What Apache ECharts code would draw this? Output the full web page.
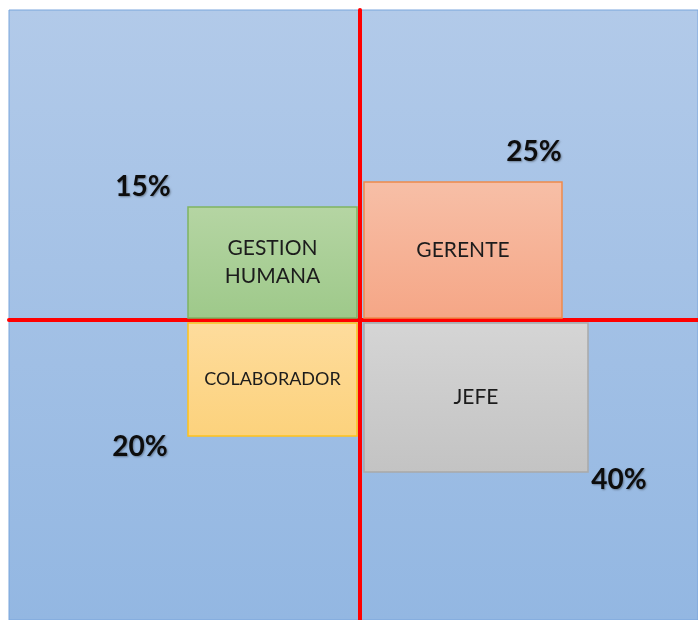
<!DOCTYPE html>
<html>
<head>
<meta charset="utf-8">
<script src="https://cdn.jsdelivr.net/npm/echarts@6/dist/echarts.min.js"></script>
<style>
  html, body { margin: 0; padding: 0; background: #ffffff; }
  #chart { width: 698px; height: 620px; }
</style>
</head>
<body>
<div id="chart"></div>
<script>
  // Quadrant boxes, in axis units (cross of the red axes is 0,0)
  var categories = ["GESTION\nHUMANA", "GERENTE", "COLABORADOR", "JEFE"];
  var percents = ["15%", "25%", "20%", "40%"];
  var xStart = [-17.2, 0.4, -17.2, 0.4];
  var xEnd = [-0.3, 20.2, -0.3, 22.8];
  var yStart = [0.2, 0.2, -11.6, -15.2];
  var yEnd = [11.3, 13.8, -0.3, -0.3];

  // styles per box
  var boxFill = [
    ["#b5d5a3", "#9ec98a"],
    ["#f7bfa7", "#f5a686"],
    ["#fedc9d", "#fcd27c"],
    ["#d5d5d5", "#c3c3c3"]
  ];
  var boxStroke = ["#7fb462", "#ee8a4c", "#ffc21a", "#a9a9a9"];
  var nameSize = [21, 21, 18, 21];
  // percent label: which corner of the box, then pixel offset from it
  var pctCorner = ["tl", "tr", "bl", "br"];
  var pctOffset = [[-45, -20], [-28, -30], [-48, 11], [31, 8]];

  var chart = echarts.init(document.getElementById("chart"), null, {renderer: "canvas"});

  var seriesData = categories.map(function(name, i) {
    return {name: name, value: [xStart[i], xEnd[i], yStart[i], yEnd[i], i]};
  });

  function renderBox(params, api) {
    var i = api.value(4);
    var tl = api.coord([api.value(0), api.value(3)]);
    var br = api.coord([api.value(1), api.value(2)]);
    var w = br[0] - tl[0];
    var h = br[1] - tl[1];

    var corner = pctCorner[i];
    var cx = corner.charAt(1) === "l" ? tl[0] : br[0];
    var cy = corner.charAt(0) === "t" ? tl[1] : br[1];

    return {
      type: "group",
      children: [
        {
          type: "rect",
          shape: {x: tl[0], y: tl[1], width: w, height: h},
          style: {
            fill: new echarts.graphic.LinearGradient(0, 0, 0, 1, [
              {offset: 0, color: boxFill[i][0]},
              {offset: 1, color: boxFill[i][1]}
            ]),
            stroke: boxStroke[i],
            lineWidth: 1.5
          },
          textContent: {
            style: {
              text: categories[i],
              font: "normal " + nameSize[i] + "px Lato",
              fill: "#1c1c1c",
              lineHeight: 28,
              align: "center",
              verticalAlign: "middle"
            }
          },
          textConfig: {position: "inside"}
        },
        {
          type: "text",
          x: cx + pctOffset[i][0],
          y: cy + pctOffset[i][1],
          style: {
            text: percents[i],
            font: "bold 28px Lato",
            fill: "#0d0d0d",
            align: "center",
            verticalAlign: "middle",
            textShadowColor: "rgba(0,0,0,0.35)",
            textShadowBlur: 2,
            textShadowOffsetX: 1,
            textShadowOffsetY: 1
          }
        }
      ]
    };
  }

  var redAxis = {
    onZero: true,
    lineStyle: {color: "#ff0000", width: 4}
  };

  var option = {
    animation: false,
    grid: {
      left: 9,
      top: 10,
      right: 0,
      bottom: 0,
      show: true,
      borderColor: "#78a5dc",
      borderWidth: 1,
      backgroundColor: new echarts.graphic.LinearGradient(0, 0, 0, 1, [
        {offset: 0, color: "#b2cae9"},
        {offset: 1, color: "#93b7e2"}
      ])
    },
    xAxis: {
      type: "value",
      min: -35.1,
      max: 33.8,
      axisLine: redAxis,
      axisTick: {show: false},
      axisLabel: {show: false},
      splitLine: {show: false}
    },
    yAxis: {
      type: "value",
      min: -30,
      max: 31,
      axisLine: redAxis,
      axisTick: {show: false},
      axisLabel: {show: false},
      splitLine: {show: false}
    },
    series: [{
      type: "custom",
      renderItem: renderBox,
      encode: {x: [0, 1], y: [2, 3]},
      data: seriesData,
      z: 3
    }]
  };

  chart.setOption(option);
</script>
</body>
</html>
